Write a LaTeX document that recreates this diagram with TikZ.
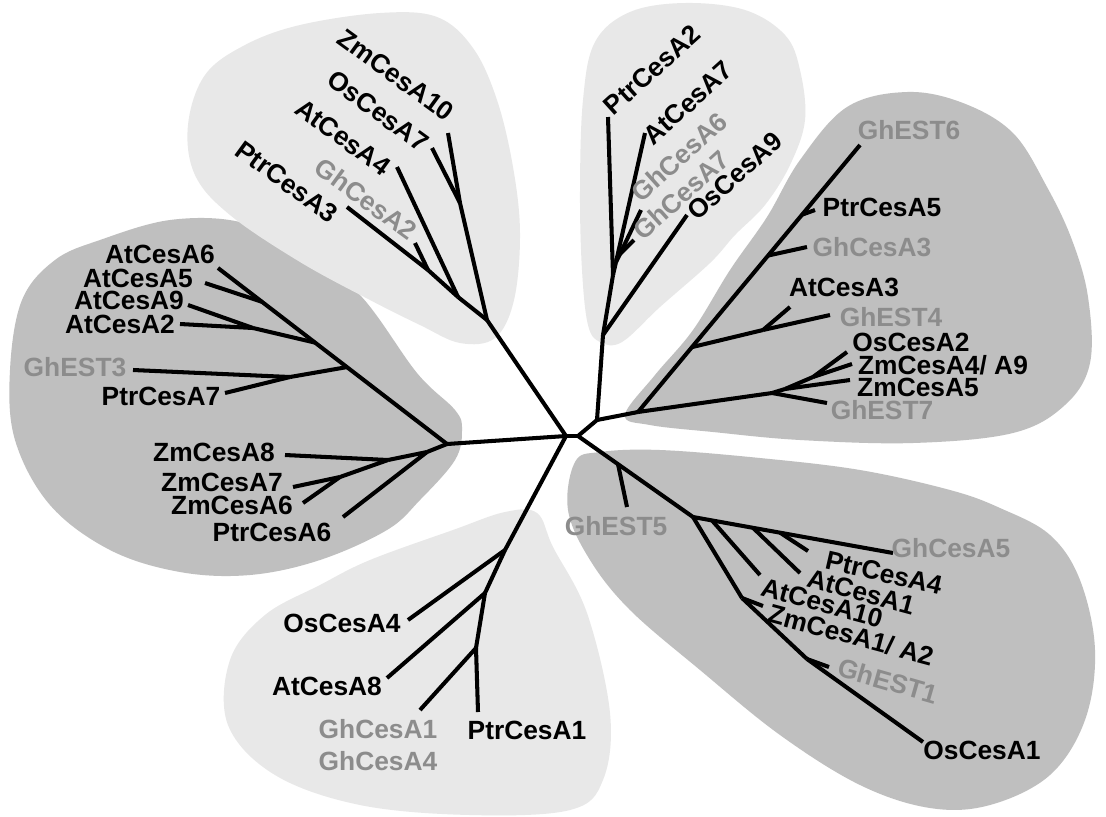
\documentclass[tikz,border=0pt]{standalone}
\usepackage{fontspec}
\setmainfont{Liberation Sans}
\usetikzlibrary{calc}
\definecolor{cladedark}{gray}{0.75}
\definecolor{cladelight}{gray}{0.91}
\definecolor{ghgray}{gray}{0.55}
\tikzset{
  branch/.style={line width=2.3pt,line join=round},
  taxon/.style={font=\fontsize{15}{17}\selectfont\bfseries,inner sep=0pt},
  ghtaxon/.style={taxon,text=ghgray},
}
\begin{document}
\begin{tikzpicture}[x=0.02cm,y=-0.02cm]
  \useasboundingbox (0,0) rectangle (1106,816);
  \fill[white] (0,0) rectangle (1106,816);
  % shaded groups
  \fill[cladedark] plot[smooth cycle,tension=0.6] coordinates {(100,240) (170,220) (240,222) (300,250) (360,295) (417,373) (455,410) (462,430) (455,460) (420,500) (387,530) (320,560) (250,575) (180,572) (110,550) (50,505) (15,440) (10,370) (22,300) (55,260)};
  \fill[cladelight] plot[smooth cycle,tension=0.6] coordinates {(195,175) (188,125) (205,75) (245,45) (300,25) (380,13) (437,17) (473,48) (497,100) (513,167) (520,233) (514,300) (495,338) (460,343) (420,325) (370,300) (300,262) (230,215)};
  \fill[cladelight] plot[smooth cycle,tension=0.6] coordinates {(583,100) (595,42) (630,12) (685,3) (745,10) (785,35) (800,70) (805,120) (790,165) (765,205) (735,235) (710,263) (660,307) (622,342) (600,342) (588,325) (582,270) (580,190)};
  \fill[cladedark] plot[smooth cycle,tension=0.6] coordinates {(625,415) (655,375) (693,330) (730,270) (767,217) (800,160) (847,107) (907,92) (963,103) (1013,133) (1047,187) (1072,240) (1088,297) (1090,363) (1065,405) (1013,433) (913,443) (800,440) (713,432) (650,425)};
  \fill[cladedark] plot[smooth cycle,tension=0.6] coordinates {(575,462) (600,452) (660,450) (760,458) (860,470) (950,490) (1000,508) (1050,535) (1080,580) (1095,650) (1085,720) (1050,775) (990,805) (930,808) (860,785) (780,735) (700,670) (630,610) (590,560) (568,510)};
  \fill[cladelight] plot[smooth cycle,tension=0.6] coordinates {(505,512) (537,513) (553,547) (587,613) (610,713) (603,780) (570,810) (470,815) (360,805) (275,775) (228,725) (230,660) (265,615) (320,585) (370,560) (453,530)};

  % centre
  \coordinate (A) at (566,436);
  \coordinate (B) at (578,436);
  % left group
  \coordinate (jL) at (447,444);
  \coordinate (tAtCesA6) at (218,268);
  \coordinate (nL1) at ($(jL)!0.437!(tAtCesA6)$);
  \coordinate (nL2) at ($(jL)!0.576!(tAtCesA6)$);
  \coordinate (nL3) at ($(jL)!0.808!(tAtCesA6)$);
  \coordinate (c1) at (290,377);
  \coordinate (tGhEST3) at (133,370);
  \coordinate (tPtrCesA7) at (225,393);
  \coordinate (c2) at (253,328);
  \coordinate (tAtCesA2) at (180,324);
  \coordinate (tAtCesA9) at (188,305);
  \coordinate (tAtCesA5) at (205,283);
  \coordinate (jz1) at (427,452);
  \coordinate (jz2) at (388,460);
  \coordinate (jz3) at (340,477);
  \coordinate (tPtrCesA6) at (343,517);
  \coordinate (tZmCesA8) at (285,455);
  \coordinate (tZmCesA7) at (293,487);
  \coordinate (tZmCesA6) at (303,503);
  % upper left group
  \coordinate (jU1) at (487,320);
  \coordinate (jU2) at (460,203);
  \coordinate (jU3) at (458,297);
  \coordinate (jU4) at (428,270);
  \coordinate (tZmCesA10) at (448,133);
  \coordinate (tOsCesA7) at (432,148);
  \coordinate (tAtCesA4) at (397,167);
  \coordinate (tPtrCesA3) at (347,207);
  \coordinate (tGhCesA2) at (415,243);
  % top group
  \coordinate (jT1) at (597,420);
  \coordinate (jT2) at (603,335);
  \coordinate (jT3) at (613,275);
  \coordinate (jT4) at (616,262);
  \coordinate (jT5) at (620,254);
  \coordinate (tOsCesA9) at (687,215);
  \coordinate (tPtrCesA2) at (608,117);
  \coordinate (tAtCesA7) at (645,133);
  \coordinate (tGhCesA6) at (641,210);
  \coordinate (tGhCesA7) at (634,240);
  % right group
  \coordinate (jR1) at (638,412);
  \coordinate (tGhEST6) at (860,145);
  \coordinate (jR2) at ($(jR1)!0.243!(tGhEST6)$);
  \coordinate (jR4) at ($(jR1)!0.586!(tGhEST6)$);
  \coordinate (jR5) at ($(jR1)!0.739!(tGhEST6)$);
  \coordinate (jR3) at (763,330);
  \coordinate (tAtCesA3) at (790,307);
  \coordinate (tGhEST4) at (830,315);
  \coordinate (tGhCesA3) at (807,247);
  \coordinate (tPtrCesA5) at (815,210);
  \coordinate (jR6) at (772,393);
  \coordinate (jR7) at (785,389);
  \coordinate (jR8) at (813,377);
  \coordinate (tGhEST7) at (827,403);
  \coordinate (tZmCesA5) at (850,380);
  \coordinate (tOsCesA2) at (847,352);
  \coordinate (tZmCesA4) at (852,364);
  % lower right group
  \coordinate (jD1) at (693,517);
  \coordinate (tGhCesA5) at (893,553);
  \coordinate (jD0) at ($(B)!0.348!(jD1)$);
  \coordinate (jD2) at ($(jD1)!0.095!(tGhCesA5)$);
  \coordinate (jD3) at ($(jD1)!0.3!(tGhCesA5)$);
  \coordinate (jD4) at ($(jD1)!0.435!(tGhCesA5)$);
  \coordinate (tGhEST5) at (627,507);
  \coordinate (tAtCesA10) at (760,575);
  \coordinate (tAtCesA1) at (800,573);
  \coordinate (tPtrCesA4) at (808,551);
  \coordinate (jD5) at (742,598);
  \coordinate (jD6) at (807,659);
  \coordinate (tZmCesA1) at (763,606);
  \coordinate (tGhEST1) at (829,667);
  \coordinate (tOsCesA1) at (923,742);
  % lower left group
  \coordinate (jB1) at (505,550);
  \coordinate (jB2) at (485,593);
  \coordinate (jB3) at (476,648);
  \coordinate (tOsCesA4) at (408,620);
  \coordinate (tAtCesA8) at (387,678);
  \coordinate (tGhCesA1) at (420,710);
  \coordinate (tPtrCesA1) at (478,712);

  \foreach \a/\b in {A/B,A/jL,jL/tAtCesA6,nL1/c1,c1/tGhEST3,c1/tPtrCesA7,nL2/c2,c2/tAtCesA2,c2/tAtCesA9,nL3/tAtCesA5,
      jL/jz1,jz1/tPtrCesA6,jz1/jz2,jz2/tZmCesA8,jz2/jz3,jz3/tZmCesA7,jz3/tZmCesA6,
      A/jU1,jU1/jU2,jU2/tZmCesA10,jU2/tOsCesA7,jU1/jU3,jU3/tAtCesA4,jU3/jU4,jU4/tPtrCesA3,jU4/tGhCesA2,
      B/jT1,jT1/jT2,jT2/tOsCesA9,jT2/jT3,jT3/tPtrCesA2,jT3/jT4,jT4/tAtCesA7,jT4/jT5,jT5/tGhCesA6,jT5/tGhCesA7,
      jT1/jR1,jR1/tGhEST6,jR2/jR3,jR3/tAtCesA3,jR3/tGhEST4,jR4/tGhCesA3,jR5/tPtrCesA5,
      jR1/jR6,jR6/tGhEST7,jR6/jR7,jR7/tZmCesA5,jR7/jR8,jR8/tOsCesA2,jR8/tZmCesA4,
      B/jD1,jD0/tGhEST5,jD1/tGhCesA5,jD2/tAtCesA10,jD3/tAtCesA1,jD4/tPtrCesA4,
      jD1/jD5,jD5/tZmCesA1,jD5/jD6,jD6/tGhEST1,jD6/tOsCesA1,
      A/jB1,jB1/tOsCesA4,jB1/jB2,jB2/tAtCesA8,jB2/jB3,jB3/tGhCesA1,jB3/tPtrCesA1}
    \draw[branch] (\a) -- (\b);

  % labels, left
  \node[taxon] (lAtCesA6) at (160,254) {AtCesA6};
  \node[taxon] (lAtCesA5) at (138,278) {AtCesA5};
  \node[taxon] (lAtCesA9) at (129,300) {AtCesA9};
  \node[taxon] (lAtCesA2) at (120,324) {AtCesA2};
  \node[ghtaxon] (lGhEST3) at (75,367) {GhEST3};
  \node[taxon] (lPtrCesA7) at (161,396) {PtrCesA7};
  \node[taxon] (lZmCesA8) at (214,452) {ZmCesA8};
  \node[taxon] (lZmCesA7) at (222,482) {ZmCesA7};
  \node[taxon] (lZmCesA6) at (232,505) {ZmCesA6};
  \node[taxon] (lPtrCesA6) at (272,532) {PtrCesA6};
  % upper left
  \node[taxon,rotate=-36] (lZmCesA10) at (396,75) {ZmCesA10};
  \node[taxon,rotate=-36] (lOsCesA7) at (378,111) {OsCesA7};
  \node[taxon,rotate=-36] (lAtCesA4) at (343,137) {AtCesA4};
  \node[taxon,rotate=-36] (lPtrCesA3) at (287,182) {PtrCesA3};
  \node[ghtaxon,rotate=-36] (lGhCesA2) at (366,199) {GhCesA2};
  % top
  \node[taxon,rotate=42] (lPtrCesA2) at (652,70) {PtrCesA2};
  \node[taxon,rotate=42] (lAtCesA7) at (688,103) {AtCesA7};
  \node[ghtaxon,rotate=42] (lGhCesA6) at (679,157) {GhCesA6};
  \node[ghtaxon,rotate=42] (lGhCesA7) at (681,195) {GhCesA7};
  \node[taxon,rotate=42] (lOsCesA9) at (735,176) {OsCesA9};
  % right
  \node[ghtaxon] (lGhEST6) at (909,130) {GhEST6};
  \node[taxon] (lPtrCesA5) at (882,207) {PtrCesA5};
  \node[ghtaxon] (lGhCesA3) at (872,247) {GhCesA3};
  \node[taxon] (lAtCesA3) at (844,287) {AtCesA3};
  \node[ghtaxon] (lGhEST4) at (891,317) {GhEST4};
  \node[taxon] (lOsCesA2) at (911,342) {OsCesA2};
  \node[taxon] (lZmCesA4) at (943,365) {ZmCesA4/ A9};
  \node[taxon] (lZmCesA5) at (918,387) {ZmCesA5};
  \node[ghtaxon] (lGhEST7) at (882,410) {GhEST7};
  % lower right
  \node[ghtaxon] (lGhEST5) at (616,526) {GhEST5};
  \node[ghtaxon] (lGhCesA5) at (951,548) {GhCesA5};
  \node[taxon,rotate=-13] (lPtrCesA4) at (884,573) {PtrCesA4};
  \node[taxon,rotate=-15] (lAtCesA1) at (861,592) {AtCesA1};
  \node[taxon,rotate=-15] (lAtCesA10) at (822,603) {AtCesA10};
  \node[taxon,rotate=-15] (lZmCesA1) at (851,635) {ZmCesA1/ A2};
  \node[ghtaxon,rotate=-16] (lGhEST1) at (888,681) {GhEST1};
  \node[taxon] (lOsCesA1) at (982,750) {OsCesA1};
  % lower left
  \node[taxon] (lOsCesA4) at (342,623) {OsCesA4};
  \node[taxon] (lAtCesA8) at (327,686) {AtCesA8};
  \node[ghtaxon] (lGhCesA1) at (378,729) {GhCesA1};
  \node[ghtaxon] (lGhCesA4) at (378,761) {GhCesA4};
  \node[taxon] (lPtrCesA1) at (527,730) {PtrCesA1};
\end{tikzpicture}
\end{document}
